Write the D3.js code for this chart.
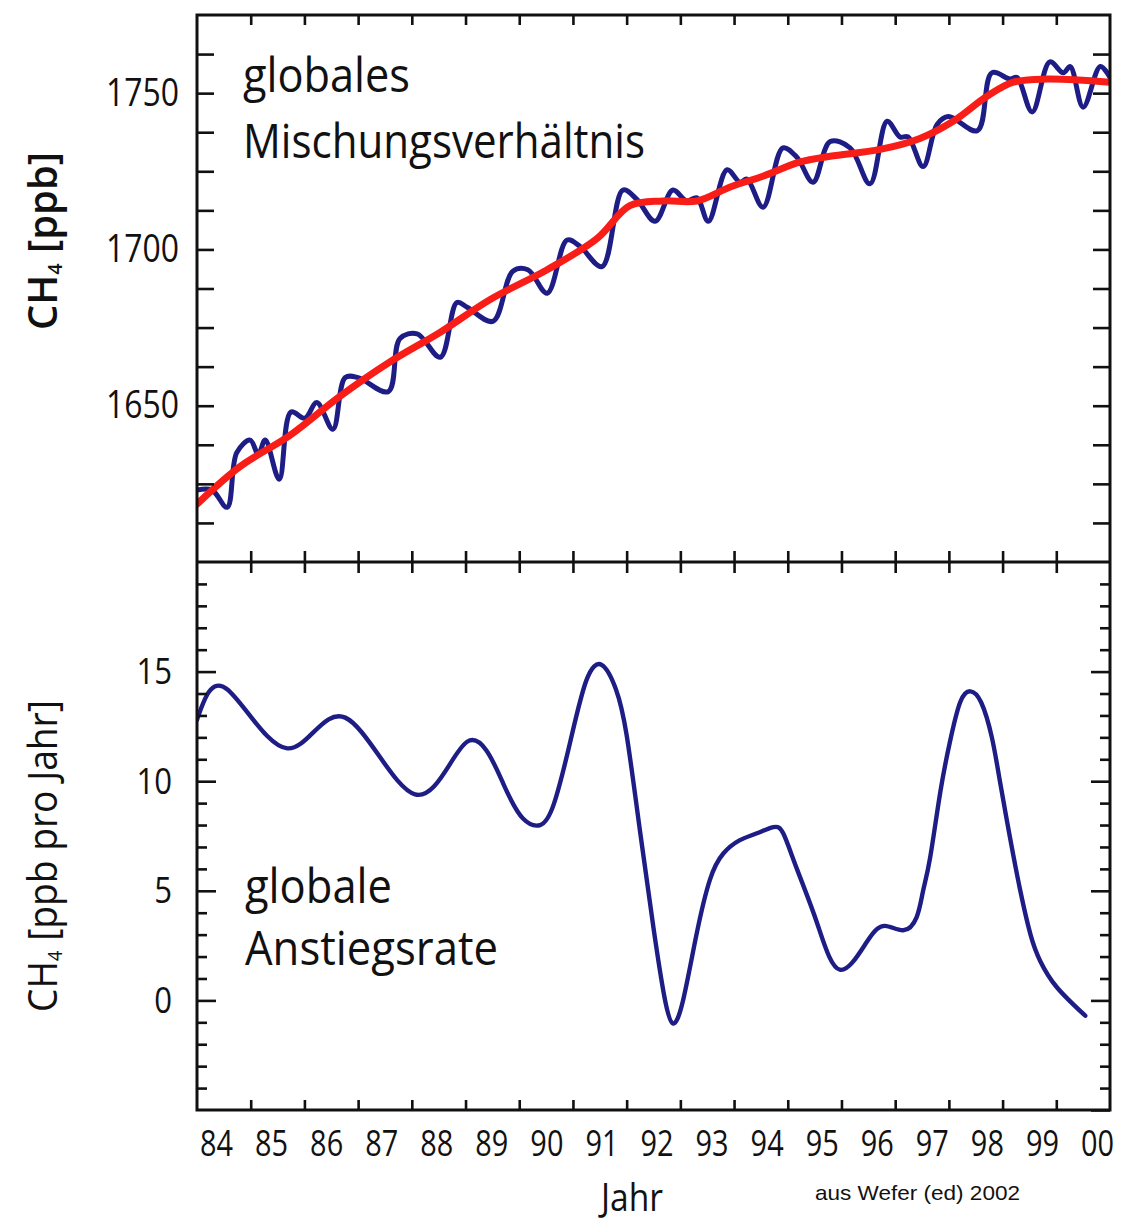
<!DOCTYPE html>
<html>
<head>
<meta charset="utf-8">
<script src="https://cdn.jsdelivr.net/npm/d3@7"></script>
<style>
  html, body { margin: 0; padding: 0; background: #ffffff; }
  svg text { font-family: "Open Sans", "Noto Sans", sans-serif; fill: #111111; }
</style>
</head>
<body>
<svg id="chart" width="1124" height="1221"></svg>
<script>
// Global CH4 mixing ratio (ppb), deseasonalised monthly record
const mixYears = [1984.00, 1984.28, 1984.56, 1984.74, 1984.99, 1985.14, 1985.27, 1985.53, 1985.75, 1986.01,
                  1986.23, 1986.53, 1986.76, 1987.00, 1987.56, 1987.78, 1988.10, 1988.53, 1988.84, 1989.03,
                  1989.51, 1989.88, 1990.16, 1990.52, 1990.89, 1991.13, 1991.54, 1991.93, 1992.19, 1992.53,
                  1992.86, 1993.12, 1993.31, 1993.52, 1993.87, 1994.11, 1994.24, 1994.54, 1994.91, 1995.17,
                  1995.47, 1995.79, 1996.16, 1996.53, 1996.85, 1997.09, 1997.24, 1997.52, 1997.78, 1997.99,
                  1998.53, 1998.80, 1999.14, 1999.27, 1999.55, 1999.88, 2000.13, 2000.26, 2000.50, 2000.82,
                  2001.00];
const mixValues = [1623, 1623, 1617.5, 1635, 1639, 1634.5, 1639, 1626.5, 1648, 1646,
                   1651, 1642.5, 1659, 1659, 1654.5, 1671.5, 1673, 1665.5, 1683, 1681.5,
                   1677, 1693, 1693.5, 1686, 1703, 1701, 1694.5, 1719, 1716, 1709,
                   1719, 1715.5, 1716.5, 1709, 1725.5, 1721.5, 1722.5, 1713.5, 1732.5, 1729.5,
                   1721.5, 1734.5, 1732.5, 1721, 1741, 1736, 1736, 1726.5, 1740, 1742.5,
                   1738, 1756.5, 1754.5, 1755, 1744, 1760, 1756.5, 1758.5, 1745.5, 1758.5,
                   1755];

// Smoothed trend of the mixing ratio (ppb)
const trendYears = [1984.00, 1984.80, 1985.73, 1986.66, 1987.59, 1988.53, 1989.46, 1990.52, 1991.45, 1992.06,
                    1992.68, 1993.31, 1993.93, 1994.55, 1995.23, 1995.79, 1996.72, 1997.46, 1998.08, 1998.71,
                    1999.20, 1999.83, 2001.00];
const trendValues = [1618.5, 1630.5, 1640.5, 1653, 1664, 1673.5, 1684, 1693.5, 1703.5, 1714,
                     1715.5, 1715.5, 1720, 1723.5, 1728, 1729.8, 1732, 1735.5, 1741, 1749,
                     1753.5, 1754.5, 1753.5];

// Global growth rate (ppb per year)
const rateYears = [1984.00, 1984.56, 1985.68, 1986.76, 1988.06, 1989.03, 1989.70, 1990.07, 1990.39,
                   1990.65, 1990.95, 1991.25, 1991.54, 1991.80, 1992.00, 1992.25, 1992.50, 1992.70, 1992.86,
                   1993.05, 1993.30, 1993.55, 1993.80, 1994.10, 1994.40, 1994.73, 1994.92, 1995.17, 1995.55,
                   1995.97, 1996.48, 1996.81, 1997.15, 1997.40, 1997.52, 1997.65, 1997.84, 1998.02, 1998.21,
                   1998.40, 1998.60, 1998.80, 1998.95, 1999.14, 1999.33, 1999.52, 1999.70, 2000.01, 2000.54];
const rateValues = [12.8, 14.2, 11.5, 12.9, 9.4, 11.8, 9.9, 8.3, 8.0,
                    9.0, 11.8, 14.6, 15.3, 14.2, 12.1, 7.7, 3.3, 0.2, -1.05,
                    0.0, 3.0, 5.5, 6.7, 7.3, 7.6, 7.9, 7.6, 6.0, 3.5,
                    1.4, 2.7, 3.4, 3.2, 3.8, 5.0, 6.5, 9.5, 11.8, 13.6,
                    14.1, 13.6, 12.0, 10.0, 7.4, 5.0, 3.0, 1.8, 0.6, -0.7];

const yearLabels = ["84", "85", "86", "87", "88", "89", "90", "91", "92", "93",
                    "94", "95", "96", "97", "98", "99", "00"];
const mixTickLabels = [1650, 1700, 1750];
const rateTickLabels = [0, 5, 10, 15];

// ---------------------------------------------------------------------------
const BLUE = "#1d1d85";
const RED = "#f91d18";
const INK = "#111111";

const svg = d3.select("#chart");
const frameL = 197, frameR = 1110, frameT = 15, frameM = 562, frameB = 1110;

const x = d3.scaleLinear().domain([1984, 2001]).range([frameL, frameR]);
const yMix = d3.scaleLinear().domain([1600, 1775]).range([frameM, frameT]);
const yRate = d3.scaleLinear().domain([-5, 20]).range([frameB, frameM]);
const xLabel = d3.scalePoint().domain(yearLabels).range([216, 1097]);

svg.append("rect").attr("width", 1124).attr("height", 1221).attr("fill", "#ffffff");

const defs = svg.append("defs");
defs.append("clipPath").attr("id", "clip-mix").append("rect")
  .attr("x", frameL).attr("y", frameT).attr("width", frameR - frameL).attr("height", frameM - frameT);
defs.append("clipPath").attr("id", "clip-rate").append("rect")
  .attr("x", frameL).attr("y", frameM).attr("width", frameR - frameL).attr("height", frameB - frameM);

// squeeze a text element horizontally to mimic a condensed face
function condense(sel, factor) {
  sel.each(function () {
    const n = this.getComputedTextLength();
    if (n > 0) d3.select(this).attr("textLength", n * factor).attr("lengthAdjust", "spacingAndGlyphs");
  });
}

function styleAxis(g, fontSize) {
  g.select(".domain").remove();
  g.selectAll(".tick line").attr("stroke", INK).attr("stroke-width", 2.6);
  g.selectAll(".tick text").attr("fill", INK).style("font-size", fontSize + "px");
}

// ---- curves ---------------------------------------------------------------
const lineMix = d3.line().x(d => x(d[0])).y(d => yMix(d[1])).curve(d3.curveCatmullRom.alpha(0.5));
const lineRate = d3.line().x(d => x(d[0])).y(d => yRate(d[1])).curve(d3.curveNatural);

svg.append("path")
  .datum(d3.zip(mixYears, mixValues))
  .attr("clip-path", "url(#clip-mix)")
  .attr("d", lineMix)
  .attr("fill", "none").attr("stroke", BLUE).attr("stroke-width", 5)
  .attr("stroke-linejoin", "round").attr("stroke-linecap", "round");

svg.append("path")
  .datum(d3.zip(trendYears, trendValues))
  .attr("clip-path", "url(#clip-mix)")
  .attr("d", lineMix)
  .attr("fill", "none").attr("stroke", RED).attr("stroke-width", 7)
  .attr("stroke-linejoin", "round").attr("stroke-linecap", "round");

svg.append("path")
  .datum(d3.zip(rateYears, rateValues))
  .attr("clip-path", "url(#clip-rate)")
  .attr("d", lineRate)
  .attr("fill", "none").attr("stroke", BLUE).attr("stroke-width", 4.4)
  .attr("stroke-linejoin", "round").attr("stroke-linecap", "round");

// ---- frame ----------------------------------------------------------------
svg.append("rect")
  .attr("x", frameL).attr("y", frameT).attr("width", frameR - frameL).attr("height", frameB - frameT)
  .attr("fill", "none").attr("stroke", INK).attr("stroke-width", 3);
svg.append("line")
  .attr("x1", frameL).attr("x2", frameR).attr("y1", frameM).attr("y2", frameM)
  .attr("stroke", INK).attr("stroke-width", 3);

// ---- upper panel y axes ---------------------------------------------------
const mixTicks = d3.range(1612.5, 1775, 12.5);
svg.append("g").attr("transform", `translate(${frameL},0)`)
  .call(d3.axisLeft(yMix).tickValues(mixTicks).tickSize(-17).tickPadding(18)
    .tickFormat(d => mixTickLabels.includes(d) ? String(d) : ""))
  .call(g => styleAxis(g, 38))
  .call(g => condense(g.selectAll(".tick text"), 0.84));
svg.append("g").attr("transform", `translate(${frameR},0)`)
  .call(d3.axisRight(yMix).tickValues(mixTicks).tickSize(-17).tickFormat(""))
  .call(g => styleAxis(g, 38));

// ---- lower panel y axes ---------------------------------------------------
const rateMinor = d3.range(-4, 20).filter(v => v % 5 !== 0);
svg.append("g").attr("transform", `translate(${frameL},0)`)
  .call(d3.axisLeft(yRate).tickValues(rateMinor).tickSize(-10).tickFormat(""))
  .call(g => styleAxis(g, 38));
svg.append("g").attr("transform", `translate(${frameL},0)`)
  .call(d3.axisLeft(yRate).tickValues(rateTickLabels).tickSize(-19).tickPadding(25))
  .call(g => styleAxis(g, 37))
  .call(g => condense(g.selectAll(".tick text"), 0.84));
svg.append("g").attr("transform", `translate(${frameR},0)`)
  .call(d3.axisRight(yRate).tickValues(rateMinor).tickSize(-10).tickFormat(""))
  .call(g => styleAxis(g, 38));
svg.append("g").attr("transform", `translate(${frameR},0)`)
  .call(d3.axisRight(yRate).tickValues([-5, ...rateTickLabels]).tickSize(-19).tickFormat(""))
  .call(g => styleAxis(g, 38));

// ---- x ticks on the top edge, the divider and the bottom edge -------------
const yearTicks = d3.range(1985, 2001);
svg.append("g").attr("transform", `translate(0,${frameT})`)
  .call(d3.axisTop(x).tickValues(yearTicks).tickSize(-10).tickFormat(""))
  .call(g => styleAxis(g, 38));
svg.append("g").attr("transform", `translate(0,${frameM})`)
  .call(d3.axisTop(x).tickValues(yearTicks).tickSize(11).tickFormat(""))
  .call(g => styleAxis(g, 38));
svg.append("g").attr("transform", `translate(0,${frameM})`)
  .call(d3.axisBottom(x).tickValues(yearTicks).tickSize(11).tickFormat(""))
  .call(g => styleAxis(g, 38));
svg.append("g").attr("transform", `translate(0,${frameB})`)
  .call(d3.axisBottom(x).tickValues(yearTicks).tickSize(-10).tickFormat(""))
  .call(g => styleAxis(g, 38));

// year labels under the frame
svg.append("g").attr("transform", `translate(0,${frameB})`)
  .call(d3.axisBottom(xLabel).tickSize(0).tickPadding(20))
  .call(g => styleAxis(g, 37))
  .call(g => condense(g.selectAll(".tick text"), 0.78));

// ---- texts ----------------------------------------------------------------
function fittedText(xp, yp, str, size, width, opts = {}) {
  const t = svg.append("text")
    .attr("x", xp).attr("y", yp)
    .attr("text-anchor", opts.anchor || "start")
    .style("font-size", size + "px")
    .text(str);
  if (opts.family) t.style("font-family", opts.family);
  if (opts.weight) t.style("font-weight", opts.weight);
  t.attr("textLength", width).attr("lengthAdjust", "spacingAndGlyphs");
  return t;
}

fittedText(243, 92, "globales", 48, 167);
fittedText(243, 158, "Mischungsverhältnis", 48, 402);
fittedText(245, 903, "globale", 48, 147);
fittedText(245, 965, "Anstiegsrate", 48, 253);

fittedText(632, 1211, "Jahr", 38, 62, { anchor: "middle" });
fittedText(815, 1200, "aus Wefer (ed) 2002", 21, 205,
  { family: "'Liberation Sans', Arial, sans-serif" });

// rotated axis titles with a subscript 4
function axisTitle(cx, cy, rest, length, weight) {
  const outer = svg.append("g").attr("transform", `translate(${cx},${cy}) rotate(-90)`);
  const inner = outer.append("g");
  const t = inner.append("text").attr("x", 0).attr("y", 0)
    .style("font-size", "40px").style("font-weight", weight);
  t.append("tspan").text("CH");
  t.append("tspan").text("4").style("font-size", "20px").attr("dy", 5);
  t.append("tspan").text(" " + rest).attr("dy", -5);
  const w = t.node().getBBox().width;
  inner.attr("transform", `scale(${length / w},1) translate(${-w / 2},0)`);
}
axisTitle(57, 241, "[ppb]", 178, 600);
axisTitle(57, 856, "[ppb pro Jahr]", 312, 400);
</script>
</body>
</html>
